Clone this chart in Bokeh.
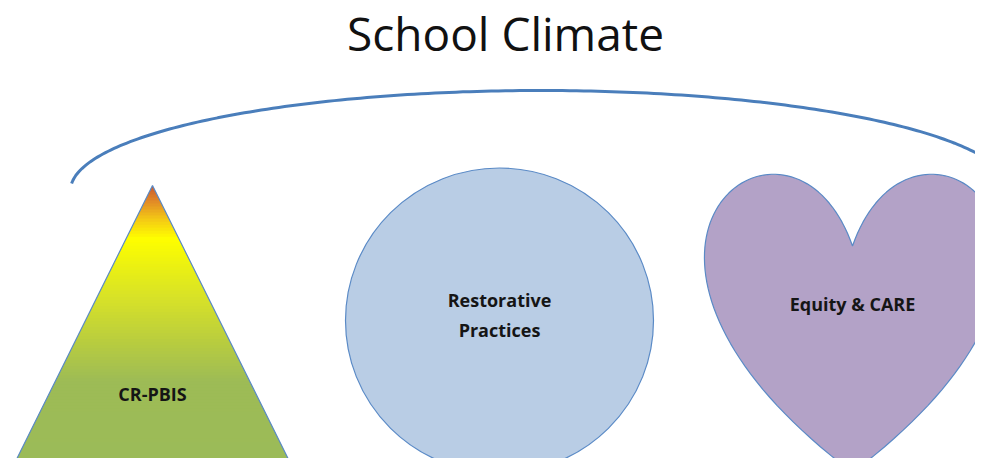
import numpy as np
from bokeh.plotting import figure
from bokeh.models import Range1d
from bokeh.core.properties import value
from bokeh.embed import file_html
from bokeh.resources import INLINE

# ---- reference canvas (pixel coordinates, y measured downward) ----
CANVAS_W, CANVAS_H = 991, 474
FIG_W, FIG_H = 975, 458

title_text = "School Climate"
title_pos = [505, 32]            # centre x, centre y

shape_labels = ["CR-PBIS", "Restorative", "Practices", "Equity & CARE"]
label_x = [152, 499, 499, 852]
label_y = [393, 299, 329, 303]

triangle_apex = [152, 185]
triangle_base = [10, 294, 471]   # left x, right x, y

circle_center = [499, 320]
circle_size = [308, 305]

heart_center_x = 852
heart_top = 170
heart_size = [294, 302]          # width, height

arc_center = [540, 190]
arc_axes = [470, 100]
arc_angles = [3, 176]            # degrees

# gradient stops of the triangle (y position, rgb)
grad_y = [185, 200, 220, 238, 262, 300, 340, 380, 471]
grad_rgb = [(200, 90, 50), (225, 135, 40), (245, 205, 20), (255, 255, 0),
            (238, 243, 16), (214, 225, 42), (186, 206, 62), (158, 188, 86), (155, 187, 89)]

OUTLINE = "#5a8ac6"
CIRCLE_FILL = "#b9cde5"
HEART_FILL = "#b3a2c7"
ARC_COLOR = "#4a7ebb"


def fy(y):
    return CANVAS_H - np.asarray(y, dtype=float)


p = figure(width=FIG_W, height=FIG_H, output_backend="svg", toolbar_location=None,
           x_range=Range1d(0, FIG_W), y_range=Range1d(CANVAS_H - FIG_H, CANVAS_H),
           x_axis_location=None, y_axis_location=None, min_border=0)
p.grid.visible = False
p.outline_line_color = None
p.background_fill_color = "white"
p.border_fill_color = "white"

# ---- triangle with vertical gradient built from overlapping thin slices ----
ax, ay = triangle_apex
bl, br, by = triangle_base
n = 95
ys = np.linspace(ay, by, n + 1)
xs_list, ys_list, cols = [], [], []
for i in range(n):
    y0 = ys[i]
    y1 = min(ys[i + 1] + 1.5, by)
    f0 = (y0 - ay) / (by - ay)
    f1 = (y1 - ay) / (by - ay)
    xl0, xr0 = ax + (bl - ax) * f0, ax + (br - ax) * f0
    xl1, xr1 = ax + (bl - ax) * f1, ax + (br - ax) * f1
    xs_list.append([xl0, xr0, xr1, xl1])
    ys_list.append(list(fy([y0, y0, y1, y1])))
    ym = 0.5 * (ys[i] + ys[i + 1])
    r = np.interp(ym, grad_y, [c[0] for c in grad_rgb])
    g = np.interp(ym, grad_y, [c[1] for c in grad_rgb])
    b = np.interp(ym, grad_y, [c[2] for c in grad_rgb])
    cols.append("#%02x%02x%02x" % (int(r), int(g), int(b)))
p.patches(xs_list, ys_list, fill_color=cols, line_color=None)
p.patch([ax, br, bl], fy([ay, by, by]), fill_alpha=0, line_color=OUTLINE, line_width=1.2)

# ---- circle ----
p.ellipse(x=[circle_center[0]], y=fy([circle_center[1]]), width=[circle_size[0]],
          height=[circle_size[1]], fill_color=CIRCLE_FILL, line_color=OUTLINE, line_width=1.2)

# ---- heart (preset heart shape built from two cubic curves) ----
def bez(p0, p1, p2, p3, m=80):
    t = np.linspace(0, 1, m)[:, None]
    pts = ((1 - t) ** 3) * p0 + 3 * ((1 - t) ** 2) * t * p1 + 3 * (1 - t) * t ** 2 * p2 + t ** 3 * p3
    return pts

hw, hh = heart_size
hc = heart_center_x
t0 = heart_top
right = bez(np.array([hc, t0 + hh / 4]), np.array([hc + 10 * hw / 48, t0 - hh / 3]),
            np.array([hc + 49 * hw / 48, t0 + hh / 4]), np.array([hc, t0 + hh]))
left = bez(np.array([hc, t0 + hh]), np.array([hc - 49 * hw / 48, t0 + hh / 4]),
           np.array([hc - 10 * hw / 48, t0 - hh / 3]), np.array([hc, t0 + hh / 4]))
heart = np.vstack([right, left[1:]])
p.patch(heart[:, 0], fy(heart[:, 1]), fill_color=HEART_FILL, line_color=OUTLINE, line_width=1.2)

# ---- overarching arc ----
th = np.radians(np.linspace(arc_angles[0], arc_angles[1], 200))
arc_x = arc_center[0] + arc_axes[0] * np.cos(th)
arc_y = arc_center[1] - arc_axes[1] * np.sin(th)
p.line(arc_x, fy(arc_y), line_color=ARC_COLOR, line_width=3)

# ---- texts ----
p.text(x=[title_pos[0]], y=fy([title_pos[1]]), text=[title_text],
       text_font=value("Open Sans"), text_font_size="46px", text_color="#111111",
       text_align="center", text_baseline="middle")
p.text(x=label_x, y=fy(label_y), text=shape_labels,
       text_font=value("Open Sans"), text_font_style="bold", text_font_size="18px",
       text_color="#151515", text_align="center", text_baseline="middle")

open("out.html", "w").write(file_html(p, INLINE))
